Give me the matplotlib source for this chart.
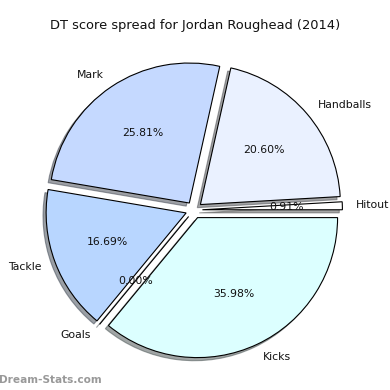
import matplotlib
matplotlib.use("Agg")
import matplotlib.pyplot as plt

labels = ["Hitout", "Handballs", "Mark", "Tackle", "Goals", "Kicks"]
values = [0.91, 20.60, 25.81, 16.69, 0.00, 35.98]
colors = ["#ffffff", "#eaf1ff", "#c5d9ff", "#b8d6ff", "#d0e8ff", "#dcffff"]
explode = [0.06] * len(values)

fig = plt.figure(figsize=(3.9, 3.9), dpi=100)
ax = fig.add_axes([0, 0, 1, 1])
ax.pie(values, labels=labels, colors=colors, explode=explode, startangle=0,
       autopct="%.2f%%", pctdistance=0.6, labeldistance=1.1,
       shadow=dict(ox=-0.016, oy=-0.016, shade=0.7),
       wedgeprops=dict(edgecolor="black", linewidth=0.8),
       textprops=dict(fontsize=7.8, color="#111111"))
R = 140.0
cx, cy = 194.0, 210.0
ax.set_xlim(-cx / R, (390 - cx) / R)
ax.set_ylim(-(390 - cy) / R, cy / R)
ax.set_aspect("auto")
ax.axis("off")

fig.text(0.5, 1 - 25 / 390, "DT score spread for Jordan Roughead (2014)",
         ha="center", va="center", fontsize=9.4, color="#111111")
fig.text(-0.003, 1 - 380 / 390, "Dream-Stats.com", ha="left", va="center",
         fontsize=7.6, color="#999999", fontweight="bold")
fig.savefig("out.png", dpi=100)
